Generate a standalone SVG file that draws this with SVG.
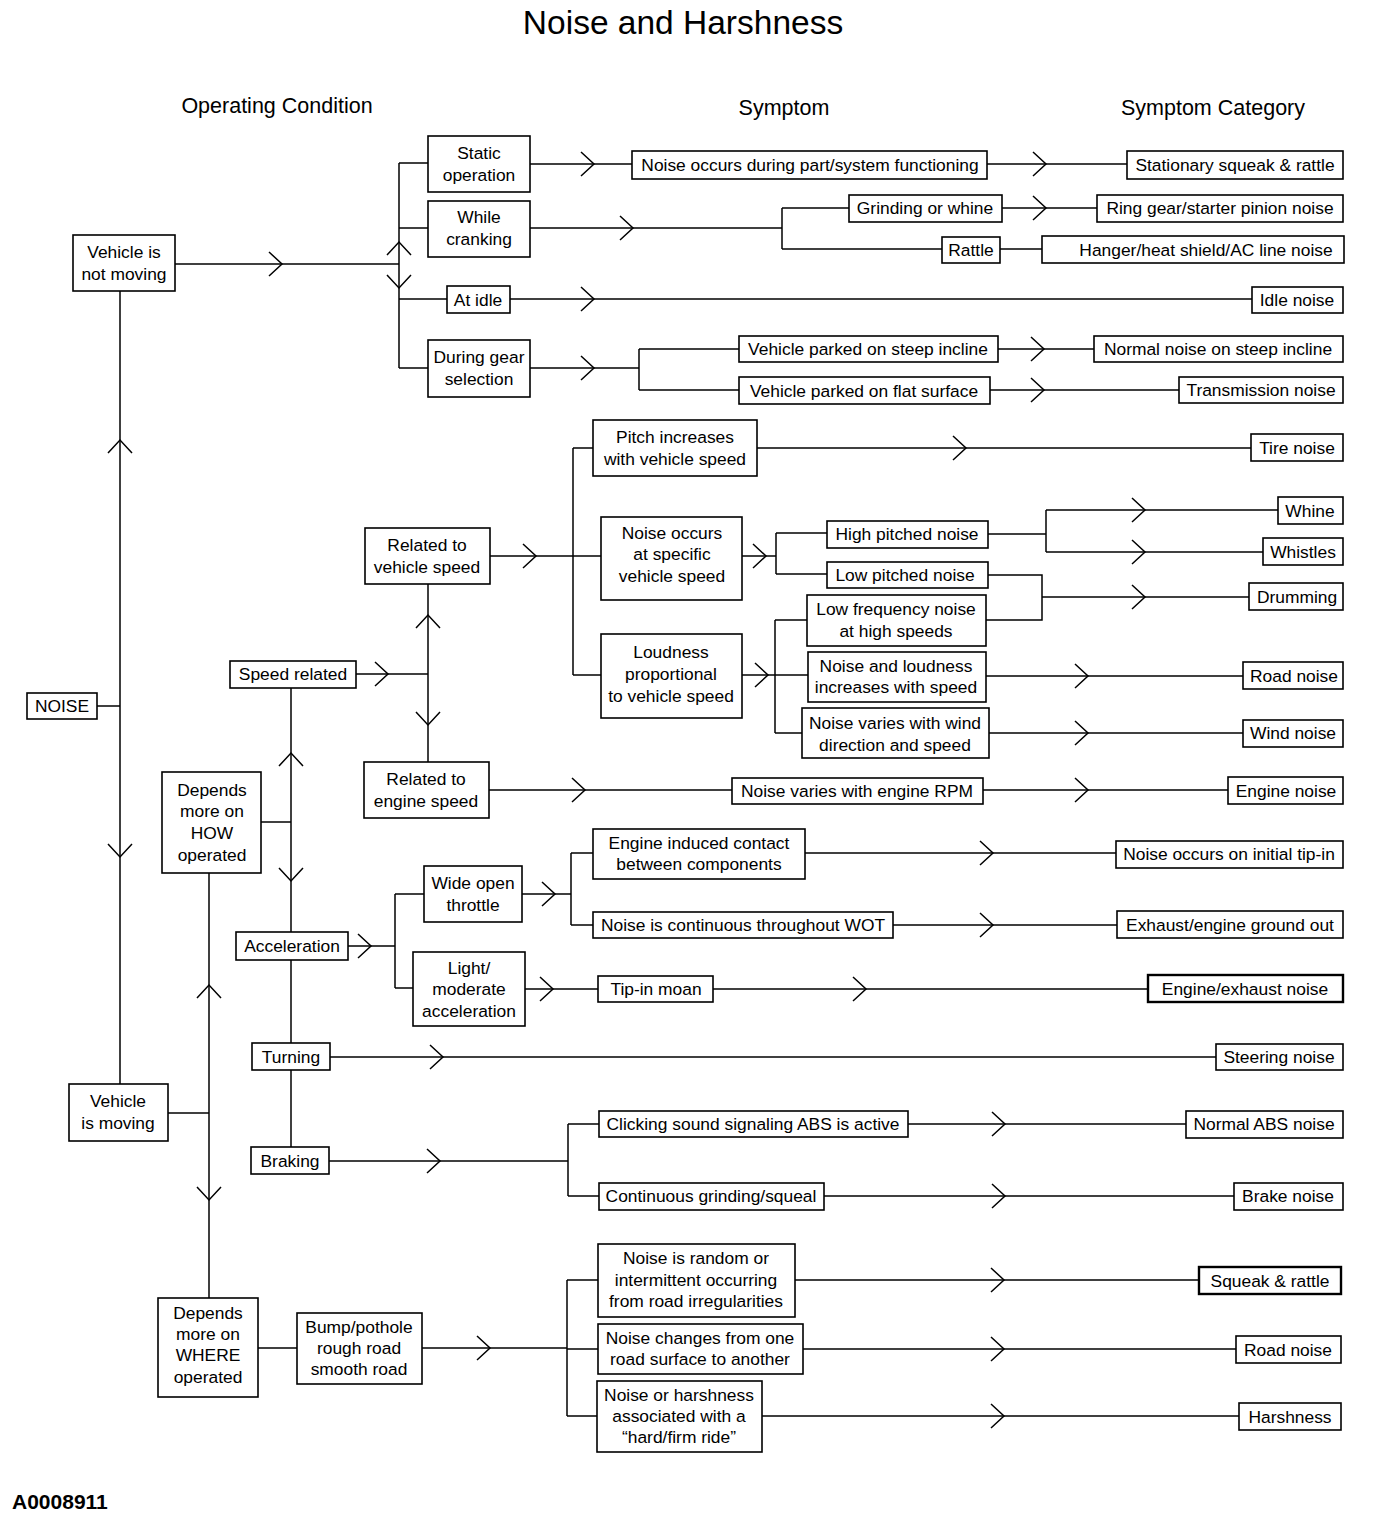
<svg xmlns="http://www.w3.org/2000/svg" width="1376" height="1532" viewBox="0 0 1376 1532">
<style>
text{font-family:"Liberation Sans",Arial,sans-serif;font-size:17.4px;fill:#000;text-anchor:middle}
.title{font-size:33.5px}
.hdr{font-size:21.5px}
.foot{font-size:21px;font-weight:bold;text-anchor:start}
rect{fill:#fff;stroke:#000;stroke-width:1.6}
rect.thick{stroke-width:2.4}
#connectors path{fill:none;stroke:#000;stroke-width:1.5}
</style>
<defs>
<marker id="chev" markerUnits="userSpaceOnUse" viewBox="-15 -15 30 30" markerWidth="30" markerHeight="30" refX="0" refY="0" orient="auto" overflow="visible">
<path d="M-13,-12 L0,0 L-13,12" fill="none" stroke="#000" stroke-width="1.5"/>
</marker>
</defs>
<rect x="0" y="0" width="1376" height="1532" style="fill:#fff;stroke:none"/>
<text class="title" x="683" y="34">Noise and Harshness</text>
<text class="hdr" x="277" y="113">Operating Condition</text>
<text class="hdr" x="784" y="115">Symptom</text>
<text class="hdr" x="1213" y="115">Symptom Category</text>
<text class="foot" x="12" y="1509">A0008911</text>

<g id="connectors">
<path d="M97 706 L120 706"/>
<path d="M120 706 L120 440 L120 291" marker-mid="url(#chev)"/>
<path d="M120 706 L120 857 L120 1084" marker-mid="url(#chev)"/>
<path d="M175 264 L282 264 L399 264" marker-mid="url(#chev)"/>
<path d="M399 264 L399 242 L399 163" marker-mid="url(#chev)"/>
<path d="M399 264 L399 288 L399 368" marker-mid="url(#chev)"/>
<path d="M399 163 L428 163"/>
<path d="M399 228 L428 228"/>
<path d="M399 299 L447 299"/>
<path d="M399 368 L428 368"/>
<path d="M530 164 L594 164 L632 164" marker-mid="url(#chev)"/>
<path d="M987 164 L1046 164 L1127 164" marker-mid="url(#chev)"/>
<path d="M530 228 L633 228 L782 228" marker-mid="url(#chev)"/>
<path d="M782 208 L782 249"/>
<path d="M782 208 L849 208"/>
<path d="M782 249 L942 249"/>
<path d="M1002 208 L1046 208 L1097 208" marker-mid="url(#chev)"/>
<path d="M1000 249 L1042 249"/>
<path d="M510 299 L594 299 L1252 299" marker-mid="url(#chev)"/>
<path d="M530 368 L594 368 L639 368" marker-mid="url(#chev)"/>
<path d="M639 349 L639 390"/>
<path d="M639 349 L739 349"/>
<path d="M639 390 L739 390"/>
<path d="M998 349 L1044 349 L1094 349" marker-mid="url(#chev)"/>
<path d="M990 390 L1044 390 L1179 390" marker-mid="url(#chev)"/>
<path d="M168 1113 L209 1113"/>
<path d="M209 1113 L209 985 L209 873" marker-mid="url(#chev)"/>
<path d="M209 1113 L209 1200 L209 1298" marker-mid="url(#chev)"/>
<path d="M261 822 L291 822"/>
<path d="M291 822 L291 753 L291 688" marker-mid="url(#chev)"/>
<path d="M291 822 L291 881 L291 932" marker-mid="url(#chev)"/>
<path d="M291 960 L291 1043"/>
<path d="M291 1070 L291 1147"/>
<path d="M356 674 L388 674 L428 674" marker-mid="url(#chev)"/>
<path d="M428 674 L428 615 L428 584" marker-mid="url(#chev)"/>
<path d="M428 674 L428 725 L428 762" marker-mid="url(#chev)"/>
<path d="M490 556 L536 556 L601 556" marker-mid="url(#chev)"/>
<path d="M573 448 L573 675"/>
<path d="M573 448 L593 448"/>
<path d="M573 675 L601 675"/>
<path d="M757 448 L966 448 L1251 448" marker-mid="url(#chev)"/>
<path d="M742 556 L766 556 L776 556" marker-mid="url(#chev)"/>
<path d="M776 533 L776 574"/>
<path d="M776 533 L827 533"/>
<path d="M776 574 L827 574"/>
<path d="M742 675 L768 675 L808 675" marker-mid="url(#chev)"/>
<path d="M775 620 L775 733"/>
<path d="M775 620 L807 620"/>
<path d="M775 733 L802 733"/>
<path d="M988 534 L1046 534"/>
<path d="M1046 510 L1046 552"/>
<path d="M1046 510 L1145 510 L1278 510" marker-mid="url(#chev)"/>
<path d="M1046 552 L1145 552 L1263 552" marker-mid="url(#chev)"/>
<path d="M988 575 L1042 575 L1042 620 L986 620"/>
<path d="M1042 597 L1145 597 L1249 597" marker-mid="url(#chev)"/>
<path d="M986 676 L1088 676 L1243 676" marker-mid="url(#chev)"/>
<path d="M989 733 L1088 733 L1243 733" marker-mid="url(#chev)"/>
<path d="M489 790 L585 790 L732 790" marker-mid="url(#chev)"/>
<path d="M983 790 L1088 790 L1228 790" marker-mid="url(#chev)"/>
<path d="M348 946 L371 946 L395 946" marker-mid="url(#chev)"/>
<path d="M395 894 L395 988"/>
<path d="M395 894 L424 894"/>
<path d="M395 988 L413 988"/>
<path d="M522 894 L555 894 L571 894" marker-mid="url(#chev)"/>
<path d="M571 853 L571 925"/>
<path d="M571 853 L593 853"/>
<path d="M571 925 L593 925"/>
<path d="M805 853 L993 853 L1116 853" marker-mid="url(#chev)"/>
<path d="M893 925 L993 925 L1117 925" marker-mid="url(#chev)"/>
<path d="M525 989 L553 989 L598 989" marker-mid="url(#chev)"/>
<path d="M713 989 L866 989 L1148 989" marker-mid="url(#chev)"/>
<path d="M330 1057 L443 1057 L1216 1057" marker-mid="url(#chev)"/>
<path d="M329 1161 L440 1161 L568 1161" marker-mid="url(#chev)"/>
<path d="M568 1124 L568 1196"/>
<path d="M568 1124 L599 1124"/>
<path d="M568 1196 L599 1196"/>
<path d="M908 1124 L1005 1124 L1186 1124" marker-mid="url(#chev)"/>
<path d="M824 1196 L1005 1196 L1234 1196" marker-mid="url(#chev)"/>
<path d="M258 1348 L297 1348"/>
<path d="M422 1348 L490 1348 L567 1348" marker-mid="url(#chev)"/>
<path d="M567 1280 L567 1416"/>
<path d="M567 1280 L598 1280"/>
<path d="M567 1349 L598 1349"/>
<path d="M567 1416 L597 1416"/>
<path d="M795 1280 L1004 1280 L1199 1280" marker-mid="url(#chev)"/>
<path d="M803 1349 L1004 1349 L1236 1349" marker-mid="url(#chev)"/>
<path d="M762 1416 L1004 1416 L1239 1416" marker-mid="url(#chev)"/>
</g>

<g id="n-not-moving"><rect x="73" y="235" width="102" height="56"/><text x="124" y="258">Vehicle is</text><text x="124" y="280">not moving</text></g>
<g id="n-noise"><rect x="27" y="693" width="70" height="26"/><text x="62" y="712">NOISE</text></g>
<g id="n-moving"><rect x="69" y="1084" width="99" height="57"/><text x="118" y="1107">Vehicle</text><text x="118" y="1129">is moving</text></g>
<g id="n-how"><rect x="162" y="772" width="99" height="101"/><text x="212" y="796">Depends</text><text x="212" y="817">more on</text><text x="212" y="839">HOW</text><text x="212" y="861">operated</text></g>
<g id="n-where"><rect x="158" y="1298" width="100" height="99"/><text x="208" y="1319">Depends</text><text x="208" y="1340">more on</text><text x="208" y="1361">WHERE</text><text x="208" y="1383">operated</text></g>

<g id="n-static"><rect x="428" y="136" width="102" height="56"/><text x="479" y="159">Static</text><text x="479" y="181">operation</text></g>
<g id="n-cranking"><rect x="428" y="201" width="102" height="56"/><text x="479" y="223">While</text><text x="479" y="245">cranking</text></g>
<g id="n-idle"><rect x="447" y="286" width="63" height="27"/><text x="478" y="306">At idle</text></g>
<g id="n-gear"><rect x="428" y="340" width="102" height="57"/><text x="479" y="363">During gear</text><text x="479" y="385">selection</text></g>

<g id="n-part-func"><rect x="632" y="151" width="355" height="28"/><text x="810" y="171">Noise occurs during part/system functioning</text></g>
<g id="n-stationary"><rect x="1127" y="151" width="216" height="28"/><text x="1235" y="171">Stationary squeak &amp; rattle</text></g>
<g id="n-grinding"><rect x="849" y="195" width="153" height="27"/><text x="925" y="214">Grinding or whine</text></g>
<g id="n-rattle"><rect x="942" y="237" width="58" height="26"/><text x="971" y="256">Rattle</text></g>
<g id="n-ringgear"><rect x="1097" y="195" width="246" height="27"/><text x="1220" y="214">Ring gear/starter pinion noise</text></g>
<g id="n-hanger"><rect x="1042" y="236" width="302" height="27"/><text x="1206" y="256">Hanger/heat shield/AC line noise</text></g>
<g id="n-idlenoise"><rect x="1252" y="287" width="91" height="26"/><text x="1297" y="306">Idle noise</text></g>
<g id="n-steep"><rect x="739" y="336" width="259" height="26"/><text x="868" y="355">Vehicle parked on steep incline</text></g>
<g id="n-flat"><rect x="739" y="377" width="251" height="27"/><text x="864" y="397">Vehicle parked on flat surface</text></g>
<g id="n-normal-steep"><rect x="1094" y="336" width="249" height="26"/><text x="1218" y="355">Normal noise on steep incline</text></g>
<g id="n-transmission"><rect x="1179" y="377" width="164" height="26"/><text x="1261" y="396">Transmission noise</text></g>

<g id="n-speed"><rect x="230" y="661" width="126" height="27"/><text x="293" y="680">Speed related</text></g>
<g id="n-vehspeed"><rect x="365" y="528" width="125" height="56"/><text x="427" y="551">Related to</text><text x="427" y="573">vehicle speed</text></g>
<g id="n-engspeed"><rect x="364" y="762" width="125" height="56"/><text x="426" y="785">Related to</text><text x="426" y="807">engine speed</text></g>
<g id="n-pitch"><rect x="593" y="420" width="164" height="56"/><text x="675" y="443">Pitch increases</text><text x="675" y="465">with vehicle speed</text></g>
<g id="n-specific"><rect x="601" y="517" width="141" height="83"/><text x="672" y="539">Noise occurs</text><text x="672" y="560">at specific</text><text x="672" y="582">vehicle speed</text></g>
<g id="n-loudness"><rect x="601" y="634" width="141" height="84"/><text x="671" y="658">Loudness</text><text x="671" y="680">proportional</text><text x="671" y="702">to vehicle speed</text></g>
<g id="n-tire"><rect x="1251" y="434" width="92" height="27"/><text x="1297" y="454">Tire noise</text></g>
<g id="n-high"><rect x="827" y="521" width="161" height="27"/><text x="907" y="540">High pitched noise</text></g>
<g id="n-low"><rect x="827" y="562" width="161" height="26"/><text x="905" y="581">Low pitched noise</text></g>
<g id="n-lowfreq"><rect x="807" y="595" width="179" height="51"/><text x="896" y="615">Low frequency noise</text><text x="896" y="637">at high speeds</text></g>
<g id="n-incr"><rect x="808" y="652" width="178" height="50"/><text x="896" y="672">Noise and loudness</text><text x="896" y="693">increases with speed</text></g>
<g id="n-windvar"><rect x="802" y="708" width="187" height="50"/><text x="895" y="729">Noise varies with wind</text><text x="895" y="751">direction and speed</text></g>
<g id="n-whine"><rect x="1278" y="497" width="65" height="27"/><text x="1310" y="517">Whine</text></g>
<g id="n-whistles"><rect x="1263" y="538" width="80" height="27"/><text x="1303" y="558">Whistles</text></g>
<g id="n-drumming"><rect x="1249" y="583" width="94" height="27"/><text x="1297" y="603">Drumming</text></g>
<g id="n-road1"><rect x="1243" y="662" width="100" height="27"/><text x="1294" y="682">Road noise</text></g>
<g id="n-wind"><rect x="1243" y="720" width="100" height="27"/><text x="1293" y="739">Wind noise</text></g>
<g id="n-rpm"><rect x="732" y="778" width="251" height="26"/><text x="857" y="797">Noise varies with engine RPM</text></g>
<g id="n-engine"><rect x="1228" y="777" width="115" height="27"/><text x="1286" y="797">Engine noise</text></g>

<g id="n-accel"><rect x="236" y="932" width="112" height="28"/><text x="292" y="952">Acceleration</text></g>
<g id="n-wot"><rect x="424" y="866" width="98" height="56"/><text x="473" y="889">Wide open</text><text x="473" y="911">throttle</text></g>
<g id="n-light"><rect x="413" y="952" width="112" height="74"/><text x="469" y="974">Light/</text><text x="469" y="995">moderate</text><text x="469" y="1017">acceleration</text></g>
<g id="n-contact"><rect x="593" y="829" width="212" height="50"/><text x="699" y="849">Engine induced contact</text><text x="699" y="870">between components</text></g>
<g id="n-continuous-wot"><rect x="593" y="912" width="300" height="26"/><text x="743" y="931">Noise is continuous throughout WOT</text></g>
<g id="n-tipin"><rect x="1116" y="841" width="227" height="27"/><text x="1229" y="860">Noise occurs on initial tip-in</text></g>
<g id="n-groundout"><rect x="1117" y="911" width="226" height="27"/><text x="1230" y="931">Exhaust/engine ground out</text></g>
<g id="n-moan"><rect x="598" y="976" width="115" height="26"/><text x="656" y="995">Tip-in moan</text></g>
<g id="n-engexh"><rect class="thick" x="1148" y="975" width="195" height="27"/><text x="1245" y="995">Engine/exhaust noise</text></g>

<g id="n-turning"><rect x="252" y="1043" width="78" height="27"/><text x="291" y="1063">Turning</text></g>
<g id="n-steering"><rect x="1216" y="1044" width="127" height="26"/><text x="1279" y="1063">Steering noise</text></g>
<g id="n-braking"><rect x="251" y="1147" width="78" height="27"/><text x="290" y="1167">Braking</text></g>
<g id="n-clicking"><rect x="599" y="1111" width="309" height="26"/><text x="753" y="1130">Clicking sound signaling ABS is active</text></g>
<g id="n-grindsq"><rect x="599" y="1183" width="225" height="27"/><text x="711" y="1202">Continuous grinding/squeal</text></g>
<g id="n-abs"><rect x="1186" y="1111" width="157" height="27"/><text x="1264" y="1130">Normal ABS noise</text></g>
<g id="n-brake"><rect x="1234" y="1183" width="109" height="27"/><text x="1288" y="1202">Brake noise</text></g>

<g id="n-bump"><rect x="297" y="1313" width="125" height="71"/><text x="359" y="1333">Bump/pothole</text><text x="359" y="1354">rough road</text><text x="359" y="1375">smooth road</text></g>
<g id="n-random"><rect x="598" y="1244" width="197" height="73"/><text x="696" y="1264">Noise is random or</text><text x="696" y="1286">intermittent occurring</text><text x="696" y="1307">from road irregularities</text></g>
<g id="n-changes"><rect x="598" y="1324" width="205" height="50"/><text x="700" y="1344">Noise changes from one</text><text x="700" y="1365">road surface to another</text></g>
<g id="n-hardride"><rect x="597" y="1381" width="165" height="71"/><text x="679" y="1401">Noise or harshness</text><text x="679" y="1422">associated with a</text><text x="679" y="1443">“hard/firm ride”</text></g>
<g id="n-squeak"><rect class="thick" x="1199" y="1267" width="142" height="27"/><text x="1270" y="1287">Squeak &amp; rattle</text></g>
<g id="n-road2"><rect x="1236" y="1336" width="105" height="27"/><text x="1288" y="1356">Road noise</text></g>
<g id="n-harsh"><rect x="1239" y="1403" width="102" height="27"/><text x="1290" y="1423">Harshness</text></g>
</svg>
